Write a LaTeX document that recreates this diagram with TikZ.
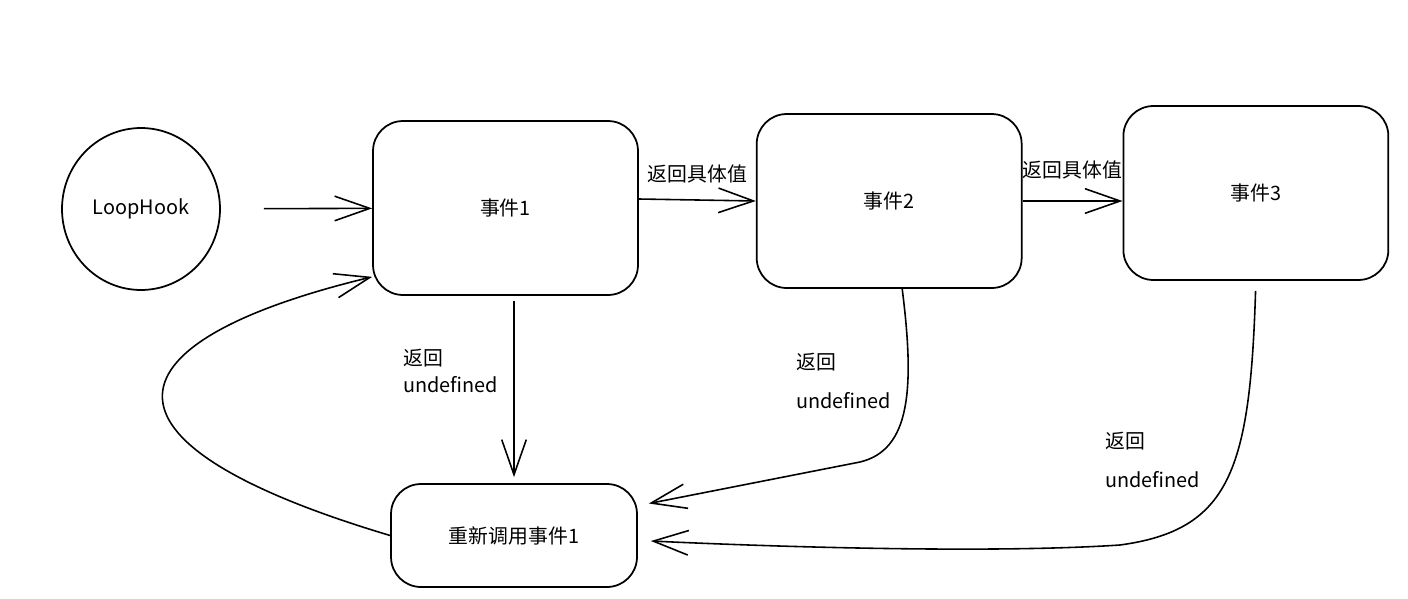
\documentclass[tikz,border=0pt]{standalone}
\usepackage{fontspec}
\setmainfont{Noto Sans CJK SC}
\usetikzlibrary{arrows.meta,positioning,shapes.geometric}

\begin{document}
\begin{tikzpicture}[x=0.02cm,y=-0.02cm,>={Straight Barb[length=20pt,width=14pt]},
  every node/.style={font=\fontsize{11.3}{14}\selectfont},
  evtbox/.style={draw,line width=1pt,rounded corners=0.6cm,minimum width=5.3cm,minimum height=3.48cm},
  flow/.style={->,line width=0.9pt},
  note/.style={align=left,inner sep=0pt}]
  \useasboundingbox (0,0) rectangle (1408,598);
  \node[draw,ellipse,line width=1pt,minimum width=3.16cm,minimum height=3.24cm] (hook) at (141,209) {LoopHook};
  \node[evtbox] (evt1) at (505.5,208) {事件1};
  \node[evtbox,right=2.34cm of evt1,yshift=0.14cm] (evt2) {事件2};
  \node[evtbox,right=2cm of evt2,yshift=0.16cm] (evt3) {事件3};
  \node[evtbox,minimum width=4.92cm,minimum height=2.06cm] (recall) at (514,535.5) {重新调用事件1};
  \coordinate (bend2) at (860,462);
  \coordinate (bend3) at (1120,545);
\draw[flow,shorten <=0.86cm] (hook) -- (evt1);
\draw[flow] ([yshift=0.18cm]evt1.east) -- node[above=0.2cm] (val12) {返回具体值} (evt2.west);
\draw[flow] (evt2.east) -- node[above=0.3cm] (val23) {返回具体值} ([yshift=-0.16cm]evt3.west);
\draw[flow,shorten <=0.1cm,shorten >=0.12cm] (evt1.south -| recall.north) -- (recall.north);
\draw[flow] ([xshift=0.26cm]evt2.south) .. controls (915,390) and (910,450) .. (bend2)
  -- ([xshift=0.22cm,yshift=0.64cm]recall.east);
\draw[flow,shorten <=0.2cm] (evt3.south) .. controls (1250,470) and (1230,530) .. (bend3)
  .. controls (1000,553) and (800,548) .. ([xshift=0.26cm,yshift=-0.11cm]recall.east);
\draw[flow] (recall.west) .. controls (70,440) and (110,340) .. ([yshift=0.38cm]evt1.south west);
  % labels on the undefined branches
  \node[note,anchor=west] (undef1) at (403,371) {返回\\[1.3pt]undefined};
  \node[note,anchor=west] (undef2) at (796,381) {返回\\[8pt]undefined};
  \node[note,anchor=west] (undef3) at (1105,460) {返回\\[8pt]undefined};
\end{tikzpicture}
\end{document}
